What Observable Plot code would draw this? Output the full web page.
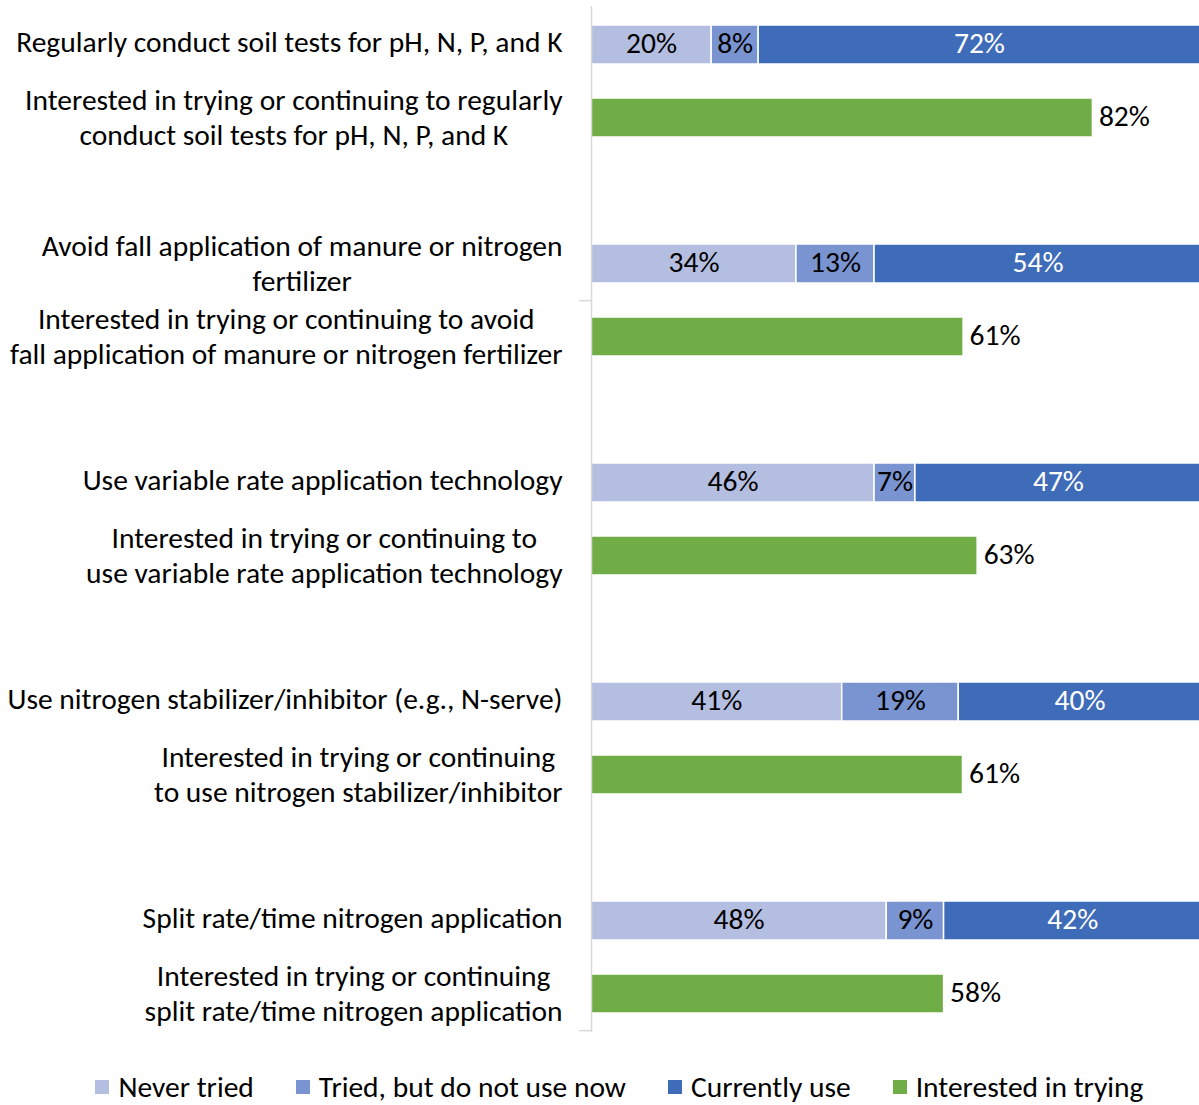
<!DOCTYPE html>
<html><head><meta charset="utf-8">
<script src="https://cdn.jsdelivr.net/npm/d3@7"></script>
<script src="https://cdn.jsdelivr.net/npm/@observablehq/plot@0.6"></script>
<style>
body{margin:0;background:#fff;font-family:Carlito, Lato, sans-serif;}
#chart svg{display:block;}
#legend{display:flex;justify-content:center;align-items:center;gap:42px;height:30px;margin-top:12px;padding-left:40px;color:#000;}
#legend .item{display:flex;align-items:center;gap:9px;white-space:nowrap;}
#legend .sw{width:14px;height:14px;display:inline-block;}
</style></head><body><div id="chart"></div><div id="legend"></div>
<script>
const practices = [
  "Regularly conduct soil tests for pH, N, P, and K",
  "Avoid fall application of manure or nitrogen\nfertilizer",
  "Use variable rate application technology",
  "Use nitrogen stabilizer/inhibitor (e.g., N-serve)",
  "Split rate/time nitrogen application"
];
const interestLabels = [
  "Interested in trying or continuing to regularly\nconduct soil tests for pH, N, P, and K",
  "Interested in trying or continuing to avoid\nfall application of manure or nitrogen fertilizer",
  "Interested in trying or continuing to\nuse variable rate application technology",
  "Interested in trying or continuing\nto use nitrogen stabilizer/inhibitor",
  "Interested in trying or continuing\nsplit rate/time nitrogen application"
];
const statuses = ["Never tried", "Tried, but do not use now", "Currently use"];
const interestName = "Interested in trying";
const neverTried   = [19.7, 33.6, 46.4, 41.1, 48.4];
const triedNotNow  = [7.7, 12.8, 6.7, 19.1, 9.4];
const currentlyUse = [72.4, 53.6, 46.9, 39.8, 42.2];
const interested   = [82.2, 61.0, 63.3, 60.9, 57.8];
const statusColors = ["#B4BEE0", "#7A93D1", "#3F6CB8"];
const interestColor = "#70AD47";

// slots (with empty spacer rows between groups)
const slots = [];
practices.forEach((p, i) => { slots.push("P" + i, "I" + i); if (i < practices.length - 1) slots.push("G" + i); });

const stackRows = [];
practices.forEach((p, i) => {
  [neverTried, triedNotNow, currentlyUse].forEach((arr, k) => {
    stackRows.push({slot: "P" + i, status: statuses[k], value: arr[i]});
  });
});
const interestRows = interested.map((v, i) => ({slot: "I" + i, value: v}));
const labelRows = [
  ...practices.map((t, i) => ({slot: "P" + i, label: t})),
  ...interestLabels.map((t, i) => ({slot: "I" + i, label: t}))
];

const fontFamily = "Carlito, Lato, sans-serif";
const canvas = document.createElement("canvas");
const ctx = canvas.getContext("2d");
function measure(t, fs) { ctx.font = `${fs}px ${fontFamily}`; return ctx.measureText(t).width; }
// choose size so the first label spans ~547px as in the reference
const fs = Math.round(26 * 547 / measure(practices[0], 26) * 10) / 10;
document.body.style.fontSize = fs + "px";

const W = 1199, H = 1060, mTop = 6, mBottom = 28, mLeft = 591;
const step = (H - mBottom - mTop) / slots.length;

const labelMarks = labelRows.map(r => {
  const lines = r.label.split("\n");
  const maxW = Math.max(...lines.map(l => measure(l, fs)));
  return Plot.text([r], {
    y: "slot", text: "label", frameAnchor: "left",
    textAnchor: "middle", lineAnchor: "middle", lineHeight: 35 / fs,
    dx: -29 - maxW / 2, dy: lines.length > 1 ? -2 : -4, fill: "#000", fontSize: fs
  });
});

const chart = Plot.plot({
  width: W, height: H,
  marginLeft: mLeft, marginRight: -2, marginTop: mTop, marginBottom: mBottom,
  style: {fontFamily, background: "#fff", overflow: "hidden"},
  x: {domain: [0, 100], axis: null},
  y: {domain: slots, axis: null, paddingInner: 0.46, paddingOuter: 0.23},
  color: {domain: statuses, range: statusColors},
  marks: [
    Plot.barX(stackRows, {y: "slot", x: "value", fill: "status", stroke: "white", strokeWidth: 1.5}),
    Plot.barX(interestRows, {y: "slot", x: "value", fill: interestColor, stroke: "white", strokeWidth: 1.5}),
    Plot.text(stackRows, Plot.stackX({y: "slot", x: "value", z: "status",
      text: d => Math.round(d.value) + "%", fontSize: fs, dy: -1,
      fill: d => d.status === "Currently use" ? "white" : "black"})),
    Plot.text(interestRows, {y: "slot", x: "value", text: d => Math.round(d.value) + "%",
      textAnchor: "start", dx: 6, dy: -1, fontSize: fs, fill: "black"}),
    Plot.ruleX([0], {stroke: "#d9d9d9", strokeWidth: 1.5}),
    Plot.ruleY(["P1", "I4"], {y: d => d, x1: 0, x2: 0, insetLeft: -12, dy: step / 2, stroke: "#d9d9d9", strokeWidth: 1.5}),
    ...labelMarks
  ]
});
document.getElementById("chart").appendChild(chart);

const legend = document.getElementById("legend");
[...statuses.map((s, i) => [s, statusColors[i]]), [interestName, interestColor]].forEach(([name, c]) => {
  const it = document.createElement("span");
  it.className = "item";
  it.innerHTML = `<span class="sw" style="background:${c}"></span><span>${name}</span>`;
  legend.appendChild(it);
});
</script>
</body></html>
